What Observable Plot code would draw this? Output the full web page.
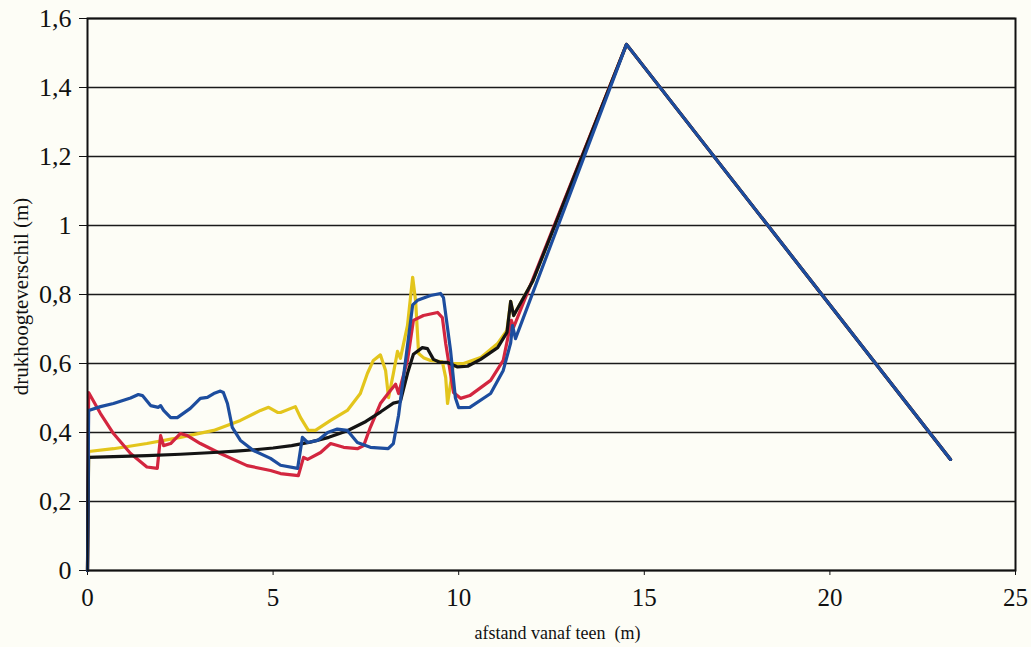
<!DOCTYPE html>
<html>
<head>
<meta charset="utf-8">
<script src="https://cdn.jsdelivr.net/npm/d3@7"></script>
<script src="https://cdn.jsdelivr.net/npm/@observablehq/plot@0.6"></script>
<style>
  html, body { margin: 0; padding: 0; background: #fdfdf6; }
  #chart { width: 1031px; height: 647px; }
</style>
</head>
<body>
<div id="chart"></div>
<script>
// Tick values
const xTicks = [0, 5, 10, 15, 20, 25];
const yTicks = [0, 0.2, 0.4, 0.6, 0.8, 1.0, 1.2, 1.4, 1.6];
const xTitle = "afstand vanaf teen  (m)";
const yTitle = "drukhoogteverschil (m)";

// Series (afstand vanaf teen, drukhoogteverschil)
const yellowX = [0, 0.03, 0.7, 1.6, 2.5, 3.4, 4.12, 4.66, 4.88, 5.12, 5.2, 5.6, 5.74, 5.95, 6.14, 6.55, 7.0, 7.35, 7.54, 7.7, 7.89, 8.03, 8.11, 8.24, 8.35, 8.43, 8.62, 8.76, 8.84, 8.92, 9.05, 9.24, 9.56, 9.65, 9.7, 9.78, 9.86, 10.13, 10.59, 11.05, 11.3, 11.4, 11.48, 12.0, 14.52, 23.25];
const yellowY = [0, 0.345, 0.353, 0.368, 0.386, 0.406, 0.435, 0.464, 0.473, 0.458, 0.458, 0.475, 0.443, 0.406, 0.406, 0.435, 0.464, 0.513, 0.571, 0.609, 0.625, 0.58, 0.501, 0.571, 0.635, 0.615, 0.71, 0.85, 0.78, 0.629, 0.617, 0.609, 0.605, 0.559, 0.484, 0.542, 0.6, 0.6, 0.617, 0.658, 0.696, 0.78, 0.739, 0.84, 1.525, 0.322];

const redX = [0, 0.03, 0.35, 0.7, 1.16, 1.6, 1.88, 1.97, 2.05, 2.24, 2.5, 2.69, 3.04, 3.58, 4.3, 4.93, 5.2, 5.68, 5.82, 5.93, 6.28, 6.55, 6.9, 7.27, 7.44, 7.62, 7.89, 8.16, 8.3, 8.38, 8.62, 8.78, 9.05, 9.43, 9.56, 9.65, 9.86, 10.05, 10.3, 10.86, 11.2, 11.42, 11.48, 14.52, 23.25];
const redY = [0, 0.516, 0.455, 0.397, 0.339, 0.3, 0.296, 0.391, 0.362, 0.368, 0.397, 0.391, 0.368, 0.339, 0.304, 0.29, 0.281, 0.275, 0.328, 0.322, 0.342, 0.368, 0.357, 0.353, 0.362, 0.415, 0.484, 0.522, 0.54, 0.513, 0.609, 0.725, 0.739, 0.748, 0.733, 0.658, 0.516, 0.499, 0.507, 0.551, 0.609, 0.725, 0.705, 1.525, 0.322];

const blackX = [0, 0.03, 1.6, 2.5, 3.4, 4.0, 4.5, 5.0, 5.5, 6.0, 6.5, 7.0, 7.5, 7.9, 8.24, 8.43, 8.62, 8.78, 9.02, 9.16, 9.32, 9.5, 9.7, 9.97, 10.24, 10.59, 11.05, 11.3, 11.4, 11.48, 12.0, 14.52, 23.25];
const blackY = [0, 0.328, 0.333, 0.337, 0.342, 0.346, 0.35, 0.355, 0.362, 0.372, 0.386, 0.405, 0.432, 0.46, 0.485, 0.49, 0.571, 0.627, 0.646, 0.643, 0.612, 0.603, 0.603, 0.59, 0.592, 0.612, 0.646, 0.69, 0.78, 0.739, 0.84, 1.525, 0.322];

const blueX = [0, 0.03, 0.35, 0.7, 1.16, 1.37, 1.48, 1.7, 1.91, 1.97, 2.05, 2.24, 2.42, 2.77, 3.04, 3.23, 3.4, 3.58, 3.66, 3.77, 3.9, 4.12, 4.47, 4.93, 5.2, 5.66, 5.79, 5.93, 6.2, 6.47, 6.73, 7.0, 7.27, 7.62, 8.1, 8.24, 8.38, 8.76, 8.89, 9.24, 9.51, 9.59, 9.78, 9.91, 10.0, 10.3, 10.86, 11.2, 11.4, 11.45, 11.53, 14.52, 23.25];
const blueY = [0, 0.464, 0.475, 0.484, 0.5, 0.51, 0.507, 0.478, 0.473, 0.478, 0.464, 0.443, 0.443, 0.47, 0.499, 0.502, 0.513, 0.52, 0.516, 0.484, 0.415, 0.377, 0.348, 0.325, 0.305, 0.296, 0.386, 0.371, 0.377, 0.4, 0.41, 0.406, 0.371, 0.357, 0.353, 0.368, 0.45, 0.77, 0.783, 0.797, 0.803, 0.791, 0.638, 0.501, 0.472, 0.473, 0.513, 0.58, 0.66, 0.71, 0.672, 1.525, 0.322];

const seriesNames = ["geel", "rood", "zwart", "blauw"];
const seriesColors = ["#e3c51c", "#d3263f", "#141414", "#1d4d9e"];
const seriesX = [yellowX, redX, blackX, blueX];
const seriesY = [yellowY, redY, blackY, blueY];

const rows = seriesNames.flatMap((name, i) =>
  seriesX[i].map((x, j) => ({ series: name, x, y: seriesY[i][j] }))
);

const serif = "Liberation Serif";
const fmt = d => String(+d.toFixed(1)).replace(".", ",");

const chart = Plot.plot({
  width: 1031,
  height: 647,
  marginLeft: 87,
  marginRight: 16,
  marginTop: 18,
  marginBottom: 77,
  style: { background: "#fdfdf6", fontFamily: serif, fontSize: "26px", color: "#111" },
  x: { domain: [0, 25], ticks: xTicks, tickFormat: d => String(d), tickSize: 5, tickPadding: 13, label: null },
  y: { domain: [0, 1.6], ticks: yTicks, tickFormat: fmt, tickSize: 8, tickPadding: 8, label: null },
  color: { domain: seriesNames, range: seriesColors },
  marks: [
    Plot.gridY(yTicks, { stroke: "#1a1a1a", strokeOpacity: 1, strokeWidth: 1.4 }),
    ...seriesNames.map(name =>
      Plot.line(rows.filter(r => r.series === name), {
        x: "x", y: "y", stroke: "series", strokeWidth: 3.2, strokeLinejoin: "round", strokeLinecap: "round"
      })
    ),
    Plot.frame({ stroke: "#111", strokeWidth: 2 }),
    Plot.text([yTitle], { frameAnchor: "left", dx: -66, dy: 2, rotate: -90, textAnchor: "middle", lineAnchor: "middle", fontSize: 21, fill: "#111" }),
    Plot.text([xTitle], { frameAnchor: "bottom", dx: 6, dy: 63, textAnchor: "middle", lineAnchor: "middle", fontSize: 18, fill: "#111" })
  ]
});

// enforce serif font and sizes through inline styles
const svg = d3.select(chart);
svg.selectAll("text").style("font-family", "'Liberation Serif', 'Times New Roman', serif");
svg.selectAll('g[aria-label="y-axis tick label"] text').style("font-size", "26px");
svg.selectAll('g[aria-label="x-axis tick label"] text').style("font-size", "25px");
svg.selectAll("text").filter(function () { return this.textContent === yTitle; })
  .style("font-size", "21px").style("text-anchor", "middle");
svg.selectAll("text").filter(function () { return this.textContent === xTitle; })
  .style("font-size", "18px").style("text-anchor", "middle");

document.getElementById("chart").appendChild(chart);
</script>
</body>
</html>
